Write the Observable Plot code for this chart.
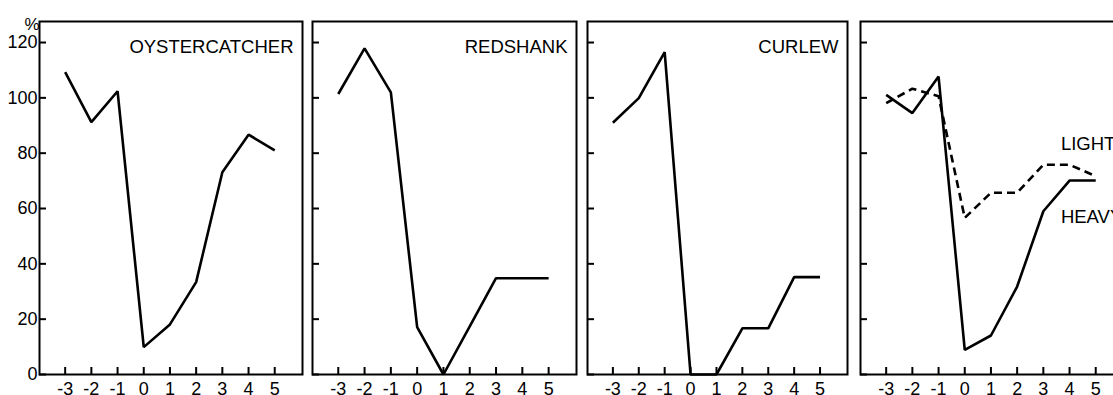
<!DOCTYPE html>
<html>
<head>
<meta charset="utf-8">
<script src="https://cdn.jsdelivr.net/npm/d3@7"></script>
<script src="https://cdn.jsdelivr.net/npm/@observablehq/plot@0.6"></script>
<style>
  html, body { margin: 0; padding: 0; background: #fff; overflow: hidden; }
  #chart { position: relative; width: 1113px; height: 395px; overflow: hidden; background: #fff; }
  #chart svg { position: absolute; top: 0; max-width: none; }
</style>
</head>
<body>
<div id="chart"></div>
<script>
// Days relative to the event, and y-axis ticks (percent)
const days = [-3, -2, -1, 0, 1, 2, 3, 4, 5];
const yTicks = [0, 20, 40, 60, 80, 100, 120];

// Percent of normal, one value per day
const oystercatcher = [109.3, 91.2, 102.4, 9.9, 18.1, 33.4, 73.1, 86.7, 81.0];
const redshank      = [101.4, 117.9, 102.0, 17.1, 0, 17.4, 34.8, 34.8, 34.8];
const curlew        = [91.0, 99.9, 116.5, 0, 0, 16.7, 16.7, 35.2, 35.2];
const heavy         = [101.1, 94.5, 107.7, 8.9, 14.1, 31.8, 59.0, 70.1, 70.1];
const light         = [98.1, 103.3, 100.6, 56.6, 65.7, 65.7, 75.8, 75.8, 71.7];

const panelTitles = ["OYSTERCATCHER", "REDSHANK", "CURLEW", ""];
const seriesNames = ["LIGHT", "HEAVY"];

const FONT = "'Liberation Sans', Arial, Helvetica, sans-serif";
const TOP = 21, BOTTOM = 21, H = 395;
const frameH = H - TOP - BOTTOM;

// Layout of each panel: frame left edge and frame width (px)
const panels = [
  {title: panelTitles[0], left: 39, width: 263, yLabels: true,
   series: [{values: oystercatcher, dash: null}]},
  {title: panelTitles[1], left: 312, width: 264, yLabels: false,
   series: [{values: redshank, dash: null}]},
  {title: panelTitles[2], left: 587, width: 260, yLabels: false,
   series: [{values: curlew, dash: null}]},
  {title: panelTitles[3], left: 860, width: 263, yLabels: false,
   series: [{values: light, dash: "8,5"}, {values: heavy, dash: null}],
   labels: [{text: seriesNames[0], x: 3.67, y: 83.3}, {text: seriesNames[1], x: 3.67, y: 56.9}]}
];

const chart = document.getElementById("chart");

panels.forEach(p => {
  const ml = p.yLabels ? p.left : 2;
  const mr = 2;
  const marks = [
    Plot.frame({stroke: "#000", strokeWidth: 2}),
    // inward ticks along the bottom and left edges
    Plot.tickX(days, {x: d => d, insetTop: frameH - 7, stroke: "#000", strokeWidth: 2}),
    Plot.tickY(yTicks, {y: d => d, insetRight: p.width - 7, stroke: "#000", strokeWidth: 2}),
    // day labels under the frame
    Plot.text(days, {x: d => d, frameAnchor: "bottom", text: d => String(d),
      lineAnchor: "top", dy: 8, fontSize: 18, fill: "#000"})
  ];
  if (p.yLabels) {
    marks.push(Plot.text(yTicks, {y: d => d, frameAnchor: "left", text: d => String(d),
      textAnchor: "end", dx: -2, fontSize: 18, fill: "#000"}));
    marks.push(Plot.text(["%"], {frameAnchor: "top-left", text: d => d, dx: -15, dy: -4, fontSize: 17}));
  }
  p.series.forEach(s => {
    const rows = days.map((d, i) => ({day: d, value: s.values[i]}));
    marks.push(Plot.line(rows, {x: "day", y: "value", stroke: "#000", strokeWidth: 2.6,
      strokeDasharray: s.dash, strokeLinejoin: "miter", strokeLinecap: "butt"}));
  });
  if (p.title) {
    marks.push(Plot.text([p.title], {frameAnchor: "top-right", text: d => d, textAnchor: "end",
      dx: -9, dy: 18, fontSize: 18.5}));
  }
  if (p.labels) {
    marks.push(Plot.text(p.labels, {x: "x", y: "y", text: "text", textAnchor: "start", fontSize: 18.5}));
  }
  const svg = Plot.plot({
    width: ml + p.width + mr,
    height: H,
    marginTop: TOP, marginBottom: BOTTOM, marginLeft: ml, marginRight: mr,
    x: {domain: [-3.98, 6.06], label: null, axis: null},
    y: {domain: [0, 127.6], label: null, axis: null},
    style: {fontFamily: FONT, fontSize: "18px", color: "#000", background: "transparent", overflow: "visible"},
    marks
  });
  svg.style.left = (p.left - ml) + "px";
  chart.appendChild(svg);
});
</script>
</body>
</html>
